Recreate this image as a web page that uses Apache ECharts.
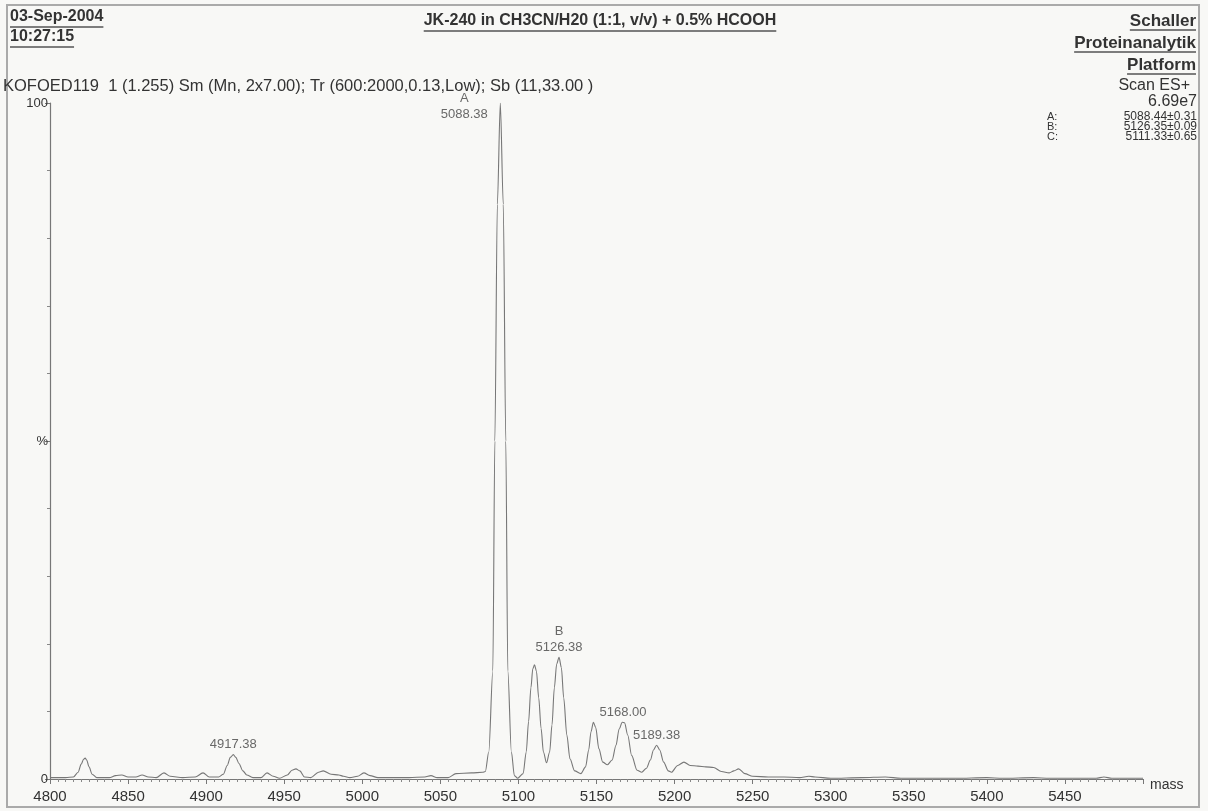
<!DOCTYPE html>
<html>
<head>
<meta charset="utf-8">
<script src="https://cdn.jsdelivr.net/npm/echarts@6/dist/echarts.min.js"></script>
<style>
	html, body { margin: 0; padding: 0; background: #f8f8f6; }
	#chart { width: 1208px; height: 811px; }
</style>
</head>
<body>
<div id="chart"></div>
<script>
// spectrum (mass, % intensity)
const masses = [
	4800, 4810, 4815, 4818, 4820, 4821.5, 4822.5, 4823.5, 4825, 4827, 4830, 4838, 4842, 4846, 4850, 4855,
	4859, 4863, 4868, 4873, 4877, 4885, 4893, 4898, 4902, 4908, 4911, 4913.5, 4915.5, 4917.4, 4919, 4921,
	4923.5, 4926, 4930, 4935, 4939, 4943, 4947, 4952, 4955, 4957.5, 4960, 4963, 4967, 4972, 4975, 4980,
	4985, 4988, 4992, 4997, 5001, 5005, 5010, 5020, 5030, 5040, 5044, 5048, 5055, 5060, 5070, 5077,
	5078.8, 5081, 5083.6, 5084.9, 5086.5, 5088.4, 5090.3, 5091.9, 5093.2, 5095.5, 5097.4, 5099.5,
	5103, 5105, 5106.5, 5108, 5109.2, 5110.3, 5111.5, 5113, 5114.5, 5116, 5118,
	5120, 5121.5, 5123, 5124.5, 5126, 5127.5, 5129, 5131, 5133, 5136, 5140,
	5143, 5145, 5146.5, 5148, 5149.5, 5151.5, 5154, 5157,
	5160, 5162.5, 5164.5, 5166.5, 5168, 5170, 5172.5, 5176, 5179,
	5182, 5184.5, 5186.5, 5188.5, 5190.5, 5193, 5196, 5198,
	5202, 5206, 5210, 5215, 5220, 5225, 5230, 5235, 5238, 5241, 5245, 5250, 5260, 5270, 5280, 5286,
	5290, 5300, 5320, 5335, 5345, 5360, 5380, 5400, 5410, 5430, 5440, 5470, 5475, 5480, 5500
]
const intensity = [
	0.2, 0.2, 0.3, 1.0, 2.2, 2.9, 3.1, 2.8, 1.8, 0.7, 0.2, 0.2, 0.5, 0.6, 0.3, 0.3,
	0.6, 0.3, 0.2, 0.9, 0.4, 0.2, 0.3, 0.9, 0.3, 0.3, 0.7, 2.0, 3.2, 3.6, 3.2, 2.3,
	1.2, 0.6, 0.2, 0.2, 0.9, 0.4, 0.1, 0.6, 1.3, 1.5, 1.2, 0.3, 0.2, 1.0, 1.2, 0.7,
	0.6, 0.4, 0.2, 0.4, 0.9, 0.5, 0.2, 0.2, 0.2, 0.3, 0.5, 0.2, 0.2, 0.8, 0.9, 1.0,
	1.1, 4, 16, 50, 85, 100, 85, 50, 16, 4, 0.5, 0.1,
	0.8, 4, 8.5, 13.5, 16.3, 16.9, 16, 12, 7.5, 4, 2.4,
	4, 8, 13.5, 17, 18, 16.5, 12, 6.5, 3, 1.2, 0.8,
	1.8, 4.3, 7, 8.4, 7.6, 4.5, 2.5, 2.1,
	2.8, 5, 7.4, 8.4, 8.3, 6.5, 3.5, 1.3, 1.0,
	1.6, 2.8, 4.3, 5.0, 4.3, 2.5, 1.2, 1.0,
	2.0, 2.5, 2.0, 1.9, 1.8, 1.7, 1.1, 0.9, 1.2, 1.5, 0.8, 0.4, 0.3, 0.3, 0.2, 0.4,
	0.3, 0.1, 0.2, 0.3, 0.1, 0.1, 0.1, 0.2, 0.1, 0.2, 0.1, 0.1, 0.3, 0.1, 0.1
]

// annotated peaks
const peakNames = ['4917.38', 'A\n5088.38', 'B\n5126.38', '5168.00', '5189.38']
const peakMasses = [4917.4, 5088.4, 5126, 5167, 5188.5]
const peakHeights = [3.6, 100, 18, 8.4, 5.0]

// header text
const dateText = '03-Sep-2004'
const timeText = '10:27:15'
const titleText = 'JK-240 in CH3CN/H20 (1:1, v/v) + 0.5% HCOOH'
const labText = ['Schaller', 'Proteinanalytik', 'Platform']
const scanText = ['Scan ES+', '6.69e7']
const infoText = 'KOFOED119  1 (1.255) Sm (Mn, 2x7.00); Tr (600:2000,0.13,Low); Sb (11,33.00 )'
const compNames = ['A:', 'B:', 'C:']
const compValues = ['5088.44±0.31', '5126.35±0.09', '5111.33±0.65']

const FONT = '"Liberation Sans", Arial, sans-serif'
const INK = '#333'
const PAPER = '#f8f8f6'
const ctx = document.createElement('canvas').getContext('2d')

function textWidth(text, size, weight) {
	ctx.font = `${weight} ${size}px ${FONT}`
	return ctx.measureText(text).width
}

// bold underlined header text, align: left / center / right
function underlined(text, x, y, size, align, lineY) {
	const w = textWidth(text, size, 'bold')
	let x0 = x
	if (align === 'center') x0 = x - w / 2
	if (align === 'right') x0 = x - w
	return [
		{
			type: 'text',
			x, y,
			style: { text, font: `bold ${size}px ${FONT}`, fill: INK, align, verticalAlign: 'middle' }
		},
		{
			type: 'line',
			shape: { x1: x0, y1: lineY, x2: x0 + w, y2: lineY },
			style: { stroke: '#555', lineWidth: 1.5 }
		}
	]
}

function plainText(text, x, y, size, align) {
	return {
		type: 'text',
		x, y,
		style: { text, font: `${size}px ${FONT}`, fill: INK, align, verticalAlign: 'middle' }
	}
}

const graphics = [
	{
		type: 'rect',
		shape: { x: 7, y: 5, width: 1192, height: 802 },
		style: { fill: 'none', stroke: '#aaa', lineWidth: 2 },
		z: -1
	},
	...underlined(dateText, 10, 17, 16, 'left', 27),
	...underlined(timeText, 10, 37, 16, 'left', 47),
	...underlined(titleText, 600, 21, 16, 'center', 31),
	...underlined(labText[0], 1196, 21, 17, 'right', 30),
	...underlined(labText[1], 1196, 43, 17, 'right', 52),
	...underlined(labText[2], 1196, 65, 17, 'right', 74),
	plainText(scanText[0], 1190, 86, 16, 'right'),
	plainText(scanText[1], 1197, 102, 16, 'right'),
	plainText(infoText, 3, 86, 16.5, 'left'),
	plainText('mass', 1150, 785, 14, 'left')
]
compNames.forEach((n, i) => {
	graphics.push(plainText(n, 1047, 117 + i * 10, 11, 'left'))
	graphics.push(plainText(compValues[i], 1197, 117 + i * 10, 12, 'right'))
})

const chart = echarts.init(document.getElementById('chart'))
chart.setOption({
	animation: false,
	backgroundColor: PAPER,
	grid: { left: 50, right: 65, top: 103, bottom: 32 },
	xAxis: {
		type: 'value',
		min: 4800,
		max: 5500,
		interval: 50,
		axisLine: { lineStyle: { color: '#777', width: 1.2 } },
		axisTick: { length: 5, lineStyle: { color: '#777' } },
		minorTick: { show: true, splitNumber: 10, length: 3, lineStyle: { color: '#888' } },
		splitLine: { show: false },
		axisLabel: {
			color: INK,
			fontSize: 15,
			fontFamily: FONT,
			margin: 10,
			formatter: v => (v === 5500 ? '' : String(v))
		}
	},
	yAxis: {
		type: 'value',
		min: 0,
		max: 100,
		interval: 50,
		axisLine: { show: true, lineStyle: { color: '#777', width: 1.2 } },
		axisTick: { show: true, length: 5, lineStyle: { color: '#777' } },
		minorTick: { show: true, splitNumber: 5, length: 3, lineStyle: { color: '#888' } },
		splitLine: { show: false },
		axisLabel: {
			color: INK,
			fontSize: 13,
			fontFamily: FONT,
			margin: 2,
			formatter: v => (v === 50 ? '%' : String(v))
		}
	},
	series: [
		{
			type: 'line',
			data: masses.map((m, i) => [m, intensity[i]]),
			showSymbol: false,
			smooth: 0.3,
			smoothMonotone: 'x',
			lineStyle: { color: '#777', width: 1.1 },
			silent: true
		},
		{
			type: 'scatter',
			symbolSize: 0,
			data: peakMasses.map((m, i) => ({
				value: [m, peakHeights[i]],
				name: peakNames[i],
				label: peakNames[i].startsWith('A')
					? { position: 'inside', offset: [-36, 3] }
					: { position: 'top', distance: 2 }
			})),
			label: {
				show: true,
				formatter: p => p.name,
				color: '#444',
				fontSize: 13,
				fontFamily: FONT,
				lineHeight: 16,
				align: 'center'
			},
			silent: true
		}
	],
	graphic: graphics
})
</script>
</body>
</html>
